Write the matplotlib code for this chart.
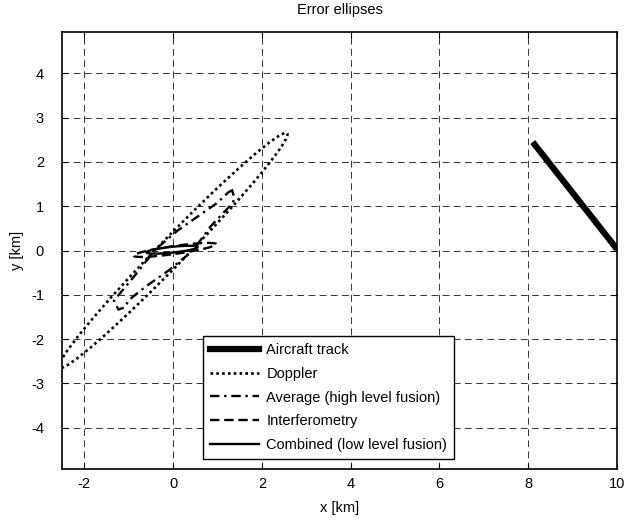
import matplotlib
matplotlib.use('Agg')
import matplotlib.pyplot as plt
from matplotlib.patches import Ellipse, Polygon
from matplotlib.lines import Line2D

plt.rcParams['font.family'] = ['Liberation Sans', 'DejaVu Sans']
plt.rcParams['axes.unicode_minus'] = False

# aircraft track (km)
track_x = [8.1, 10.0]
track_y = [2.45, 0.03]

# ellipses: centre x, centre y, full width, full height, angle (deg)
doppler = (0.0, 0.0, 7.38, 0.60, 45.9)
interferometry = (0.04, 0.015, 1.88, 0.18, 8.0)
combined = (-0.02, 0.02, 1.16, 0.13, 6.0)

# average (high level fusion) outline, traced
average_x = [1.25, 1.33, 1.38, 1.35, 0.85, 0.45, -0.10, -0.60, -1.00, -1.08, -1.23,
             -1.33, -0.85, -0.40, 0.10, 0.60, 1.00, 1.25]
average_y = [1.32, 1.36, 1.20, 1.08, 0.55, 0.00, -0.45, -0.80, -1.12, -1.28, -1.33,
             -1.13, -0.55, 0.02, 0.45, 0.80, 1.08, 1.32]

x_ticks = [-2, 0, 2, 4, 6, 8, 10]
y_ticks = [-4, -3, -2, -1, 0, 1, 2, 3, 4]

DOT = (0, (1, 1.2))
DASHDOT = (0, (4, 2, 1, 2))
DASH = (0, (4, 2))
LW = 1.7

fig = plt.figure(figsize=(6.41, 5.20), dpi=100)
ax = fig.add_axes([0.0967, 0.0981, 0.866, 0.840])

ax.plot(track_x, track_y, color='black', lw=4.5, solid_capstyle='butt', zorder=5)

def add_ellipse(params, ls, lw=LW):
    cx, cy, w, h, ang = params
    e = Ellipse((cx, cy), w, h, angle=ang, fill=False, edgecolor='black',
                lw=lw, linestyle=ls, zorder=4)
    ax.add_patch(e)

add_ellipse(doppler, DOT, 1.9)
ax.add_patch(Polygon(list(zip(average_x, average_y)), closed=True, fill=False,
                     edgecolor='black', lw=LW, linestyle=DASHDOT, zorder=4))
add_ellipse(interferometry, DASH)
add_ellipse(combined, '-')

ax.set_xlim(-2.5, 10)
ax.set_ylim(-4.93, 4.93)
ax.set_xticks(x_ticks)
ax.set_yticks(y_ticks)
ax.tick_params(direction='in', top=True, right=True, labelsize=10.5, length=4)
ax.tick_params(axis='x', pad=6)
ax.tick_params(axis='y', pad=13)
ax.grid(True, color='black', lw=0.7, linestyle=(0, (7, 4.5)), alpha=0.8)
for sp in ax.spines.values():
    sp.set_linewidth(1.2)

ax.set_title('Error ellipses', fontsize=10.5, pad=13)
ax.set_xlabel('x [km]', fontsize=10.5, labelpad=7)
ax.set_ylabel('y [km]', fontsize=10.5, labelpad=5)

handles = [
    Line2D([], [], color='black', lw=4.5),
    Line2D([], [], color='black', lw=1.9, linestyle=DOT),
    Line2D([], [], color='black', lw=LW, linestyle=DASHDOT),
    Line2D([], [], color='black', lw=LW, linestyle=DASH),
    Line2D([], [], color='black', lw=LW),
]
labels = ['Aircraft track', 'Doppler', 'Average (high level fusion)',
          'Interferometry', 'Combined (low level fusion)']
leg = ax.legend(handles, labels, loc='lower left', bbox_to_anchor=(0.254, 0.023),
                borderaxespad=0, fontsize=10.5, fancybox=False, framealpha=1,
                edgecolor='black', handlelength=3.4, handletextpad=0.5,
                labelspacing=0.68, borderpad=0.45)
leg.get_frame().set_linewidth(1.0)
leg.set_zorder(10)

fig.savefig('out.png', dpi=100)
